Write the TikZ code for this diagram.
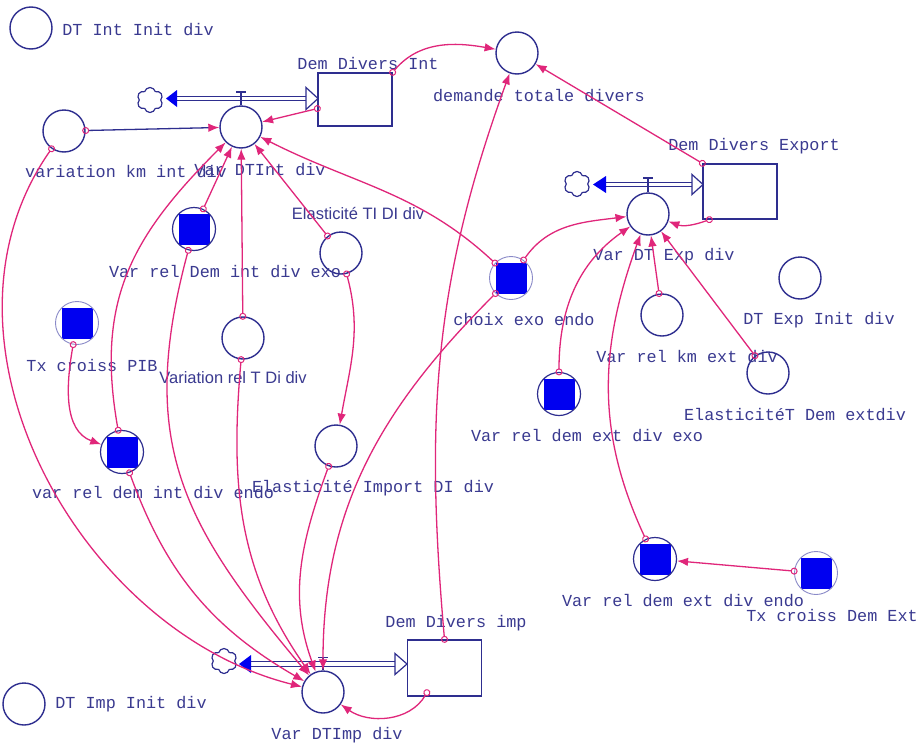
\documentclass[tikz,border=0pt]{standalone}
\usepackage{fontspec}
\setmonofont{Liberation Mono}
\setsansfont{Liberation Sans}
\usetikzlibrary{arrows.meta,shapes.symbols}
\definecolor{nv}{HTML}{2E2E8F}
\definecolor{txt}{HTML}{3A3A90}
\definecolor{pk}{HTML}{E0267A}
\definecolor{sq}{HTML}{0000F0}
\definecolor{lc}{HTML}{8A8AC8}
\begin{document}
\begin{tikzpicture}[x=1pt,y=-1pt,
 aux/.style={circle,draw=nv,line width=1.4pt,minimum size=42pt,inner sep=0pt},
 auxsq/.style={circle,draw=nv,line width=1.2pt,minimum size=43pt,inner sep=0pt,
   path picture={\fill[sq] ([shift={(-15.5pt,-15.5pt)}]path picture bounding box.center) rectangle ([shift={(15.5pt,15.5pt)}]path picture bounding box.center);}},
 auxsql/.style={auxsq,draw=lc,line width=0.9pt},
 stock/.style={draw=nv,line width=1.3pt,fill=white,minimum width=74pt,inner sep=0pt},
 lbl/.style={text=txt,font=\ttfamily\fontsize{16.8}{18}\selectfont,inner sep=0pt},
 slbl/.style={text=txt,font=\sffamily\fontsize{16.5}{18}\selectfont,inner sep=0pt},
 conn/.style={draw=pk,line width=1.3pt,{Circle[open,length=7pt,width=7pt,line width=1pt,color=pk]}-{Latex[length=11pt,width=8.5pt,color=pk]},shorten <=-3.5pt},
 cloudy/.style={cloud,cloud puffs=6,aspect=1,draw=nv,line width=1.2pt,minimum width=26pt,minimum height=25pt,inner sep=0pt},
 pipe/.style={draw=nv,double=white,double distance=3.4pt,line width=1.1pt},
 valve/.style={draw=nv,line width=1.2pt},
 hollowtip/.style={draw=nv,line width=1.2pt,fill=white},
]
\fill[white] (0,0) rectangle (918,747);
\useasboundingbox (0,0) rectangle (918,747);

% ---------- auxiliaries ----------
\node[aux] (dtinit) at (31,28) {};
\node[aux] (vkm) at (64,131) {};
\node[aux] (vdti) at (241,127) {};
\node[aux] (dtot) at (517,53) {};
\node[aux] (vdte) at (648,214) {};
\node[aux] (eti) at (341,253) {};
\node[auxsq] (vrdix) at (194,229) {};
\node[auxsql] (choix) at (511,278) {};
\node[aux] (vrkm) at (662,315) {};
\node[aux] (dtexp) at (800,278) {};
\node[aux] (etde) at (768,373) {};
\node[auxsq] (vrdex) at (559,394) {};
\node[auxsql] (txpib) at (77,323) {};
\node[aux] (vrtdi) at (243,338) {};
\node[auxsq] (vrdien) at (122,452) {};
\node[aux] (eimp) at (336,446) {};
\node[auxsq] (vrdeen) at (655,559) {};
\node[auxsql] (txde) at (816,573) {};
\node[aux] (vdtim) at (323,692) {};
\node[aux] (dtimp) at (24,704) {};

% ---------- stocks ----------
\node[stock,minimum height=53pt] (ddi) at (355,99.5) {};
\node[stock,minimum height=55pt] (dde) at (740,191.5) {};
\node[stock,minimum height=56pt] (dimp) at (444.5,668) {};

% ---------- clouds ----------
\node[cloudy] (cli) at (150,100) {};
\node[cloudy] (cle) at (577,184) {};
\node[cloudy] (clm) at (224,661) {};

% ---------- flows ----------
\draw[pipe] (176,98.5) -- (308,98.5);
\fill[sq] (166,98.5) -- (177,90) -- (177,107) -- cycle;
\draw[hollowtip] (306,87.5) -- (318,98.5) -- (306,109.5) -- cycle;
\draw[valve] (236,92) -- (246,92) (241,92) -- (vdti.north);

\draw[pipe] (605,184.5) -- (694,184.5);
\fill[sq] (593,184.5) -- (606,176) -- (606,193) -- cycle;
\draw[hollowtip] (692,174.5) -- (703,184.5) -- (692,194.5) -- cycle;
\draw[valve] (643,178) -- (653,178) (648,178) -- (vdte.north);

\draw[pipe] (249,664) -- (396,664);
\fill[sq] (239,664) -- (251,655) -- (251,673) -- cycle;
\draw[hollowtip] (395,653.5) -- (407,664) -- (395,674.5) -- cycle;
\draw[valve] (318,657.5) -- (328,657.5) (323,657.5) -- (vdtim.north);

% ---------- labels ----------
\node[lbl] (ldtinit) at (138,30) {DT Int Init div};
\node[lbl] (lddi) at (368,63) {Dem Divers Int};
\node[lbl] (lvkm) at (126,172) {variation km int div};
\node[lbl] (lvdti) at (260,170) {Var DTInt div};
\node[slbl] (leti) at (358,214) {Elasticité TI DI div};
\node[lbl] (ldtot) at (539,96) {demande totale divers};
\node[lbl] (ldde) at (754,146) {Dem Divers Export};
\node[lbl] (lvdte) at (664,256) {Var DT Exp div};
\node[lbl] (lvrdix) at (225,272) {Var rel Dem int div exo};
\node[lbl] (lchoix) at (524,320) {choix exo endo};
\node[lbl] (lvrkm) at (687,357) {Var rel km ext div};
\node[lbl] (ldtexp) at (819,320) {DT Exp Init div};
\node[lbl] (letde) at (795,415) {ElasticitéT Dem extdiv};
\node[lbl] (lvrdex) at (587,436) {Var rel dem ext div exo};
\node[lbl] (ltxpib) at (92,365) {Tx croiss PIB};
\node[slbl] (lvrtdi) at (233,378) {Variation rel T Di div};
\node[lbl] (lvrdien) at (153,493) {var rel dem int div endo};
\node[lbl] (leimp) at (373,488) {Elasticité Import DI div};
\node[lbl] (lvrdeen) at (683,601) {Var rel dem ext div endo};
\node[lbl] (ltxde) at (832,615) {Tx croiss Dem Ext};
\node[lbl] (ldimp) at (456,623) {Dem Divers imp};
\node[lbl] (lvdtim) at (337,735) {Var DTImp div};
\node[lbl] (ldtimp) at (131,704) {DT Imp Init div};

% ---------- connectors ----------
\draw[conn,draw=nv] (vkm) -- (vdti);
\draw[conn] (ddi) -- (vdti);
\draw[conn] (ddi.north east) to[out=50,in=170] (dtot);
\draw[conn] (dde.north west) -- (dtot);
\draw[conn] ([xshift=7pt]dde.south west) to[out=200,in=-20] (vdte);
\draw[conn] (dimp.north) to[out=95,in=-110] (dtot);
\draw[conn] (choix) to[out=137,in=-27] (vdti);
\draw[conn] (choix) to[out=55,in=187] (vdte);
\draw[conn] (choix) to[out=225,in=90] (vdtim);
\draw[conn] (eti) -- (vdti);
\draw[conn] (eti) to[out=-75,in=80] (eimp);
\draw[conn] (vrdix) -- (vdti);
\draw[conn] (vrtdi) -- (vdti);
\draw[conn] (vrdix) to[out=-105,in=130,looseness=1.15] (vdtim);
\draw[conn] (vrtdi) to[out=-95,in=125] (vdtim);
\draw[conn] (eimp) to[out=-110,in=110] (vdtim);
\draw[conn] (vrdien) to[out=-70,in=150] (vdtim);
\draw[conn] (vkm) to[out=-125,in=166] (vdtim);
\draw[conn] (vrdien) to[out=100,in=-135,looseness=1.1] (vdti);
\draw[conn] (txpib) to[out=-100,in=160] (vrdien);
\draw[conn] (vrdex) to[out=90,in=-145] (vdte);
\draw[conn] (vrdeen) to[out=115,in=-110] (vdte);
\draw[conn] (vrkm) -- (vdte);
\draw[conn] (etde) -- (vdte);
\draw[conn] (txde) -- (vrdeen);
\draw[conn] ([xshift=20pt,yshift=4pt]dimp.south west) to[out=-120,in=-35] (vdtim);
\end{tikzpicture}
\end{document}
